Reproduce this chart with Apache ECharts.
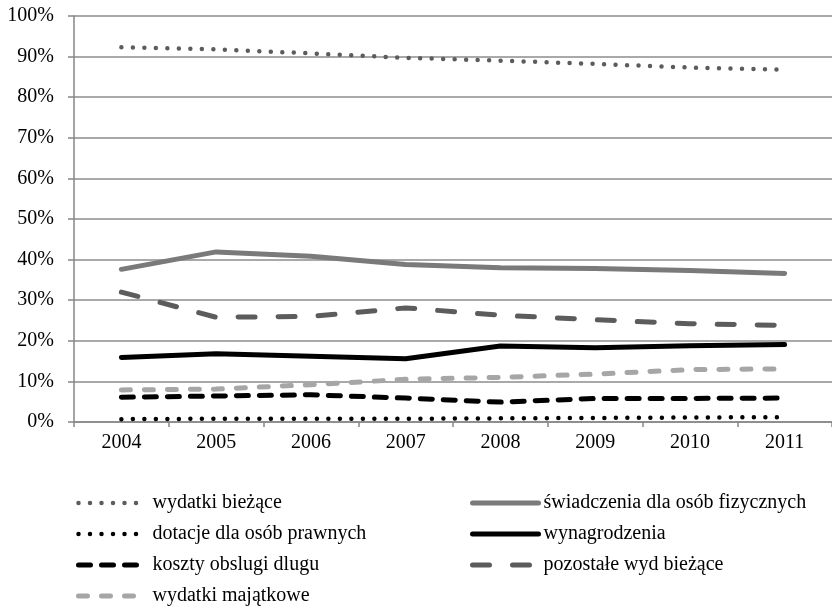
<!DOCTYPE html>
<html>
<head>
<meta charset="utf-8">
<script src="https://cdn.jsdelivr.net/npm/echarts@6/dist/echarts.min.js"></script>
<style>
  html, body { margin: 0; padding: 0; background: #fff; }
  #chart { width: 832px; height: 606px; }
</style>
</head>
<body>
<div id="chart"></div>
<script>
// lata
const years = ['2004', '2005', '2006', '2007', '2008', '2009', '2010', '2011']

// udzialy w %
const wydatkiBiezace = [92.3, 91.8, 90.8, 89.7, 89.0, 88.2, 87.3, 86.8]
const swiadczenia = [37.6, 41.9, 40.8, 38.8, 38.0, 37.8, 37.3, 36.6]
const dotacje = [0.7, 0.8, 0.8, 0.8, 0.9, 1.0, 1.1, 1.2]
const wynagrodzenia = [15.9, 16.8, 16.2, 15.6, 18.7, 18.3, 18.8, 19.1]
const kosztyDlugu = [6.1, 6.4, 6.7, 5.9, 4.9, 5.8, 5.8, 5.9]
const pozostale = [32.0, 25.8, 26.0, 28.1, 26.3, 25.2, 24.2, 23.8]
const majatkowe = [7.9, 8.1, 9.2, 10.5, 11.0, 11.8, 12.9, 13.1]

// kolumny legendy
const legendLeft = ['wydatki bieżące', 'dotacje dla osób prawnych', 'koszty obslugi dlugu', 'wydatki majątkowe']
const legendRight = ['świadczenia dla osób fizycznych', 'wynagrodzenia', 'pozostałe wyd bieżące']

const font = 'Liberation Serif'

function line(name, data, color, width, type) {
    return {
        name: name,
        type: 'line',
        data: data,
        symbol: 'none',
        lineStyle: { color: color, width: width, type: type, cap: 'round', join: 'round' },
        itemStyle: { color: color }
    }
}

function legendCol(left, itemWidth, pad, data) {
    return {
        orient: 'vertical',
        left: left,
        top: 493,
        padding: 0,
        itemWidth: itemWidth,
        itemHeight: 20,
        itemGap: 11,
        itemStyle: { opacity: 0 },
        lineStyle: { width: 'inherit' },
        textStyle: { fontSize: 20, fontFamily: font, color: '#000', padding: [0, 0, 0, pad] },
        data: data
    }
}

let option = {
    animation: false,
    backgroundColor: '#fff',
    textStyle: { fontFamily: font },
    grid: { left: 74, top: 16, right: -8, bottom: 184, containLabel: false },
    xAxis: {
        type: 'category',
        data: years,
        boundaryGap: true,
        axisLine: { lineStyle: { color: '#868686', width: 1.5 } },
        axisTick: { show: true, length: 5, lineStyle: { color: '#868686', width: 1.5 } },
        axisLabel: { color: '#000', fontSize: 20, fontFamily: font, margin: 11 }
    },
    yAxis: {
        type: 'value',
        min: 0,
        max: 100,
        interval: 10,
        axisLine: { show: true, lineStyle: { color: '#868686', width: 1.5 } },
        axisTick: { show: true, length: 6, lineStyle: { color: '#868686', width: 1.5 } },
        splitLine: { lineStyle: { color: '#8c8c8c', width: 1.5 } },
        axisLabel: { color: '#000', fontSize: 20, fontFamily: font, margin: 20, formatter: '{value}%' }
    },
    legend: [
        legendCol(76, 62, 7, legendLeft),
        legendCol(470, 66, 0, legendRight)
    ],
    series: [
        line('świadczenia dla osób fizycznych', swiadczenia, '#7a7a7a', 5, 'solid'),
        line('pozostałe wyd bieżące', pozostale, '#5c5c5c', 5, [17, 23]),
        line('wynagrodzenia', wynagrodzenia, '#000', 5, 'solid'),
        line('wydatki majątkowe', majatkowe, '#a6a6a6', 5, [9, 14]),
        line('koszty obslugi dlugu', kosztyDlugu, '#000', 5, [12, 11]),
        line('dotacje dla osób prawnych', dotacje, '#000', 4.5, [0, 11.5]),
        line('wydatki bieżące', wydatkiBiezace, '#5c5c5c', 4.5, [0, 11.5])
    ]
}

let mychart = echarts.init(document.getElementById('chart'))
mychart.setOption(option)
</script>
</body>
</html>
